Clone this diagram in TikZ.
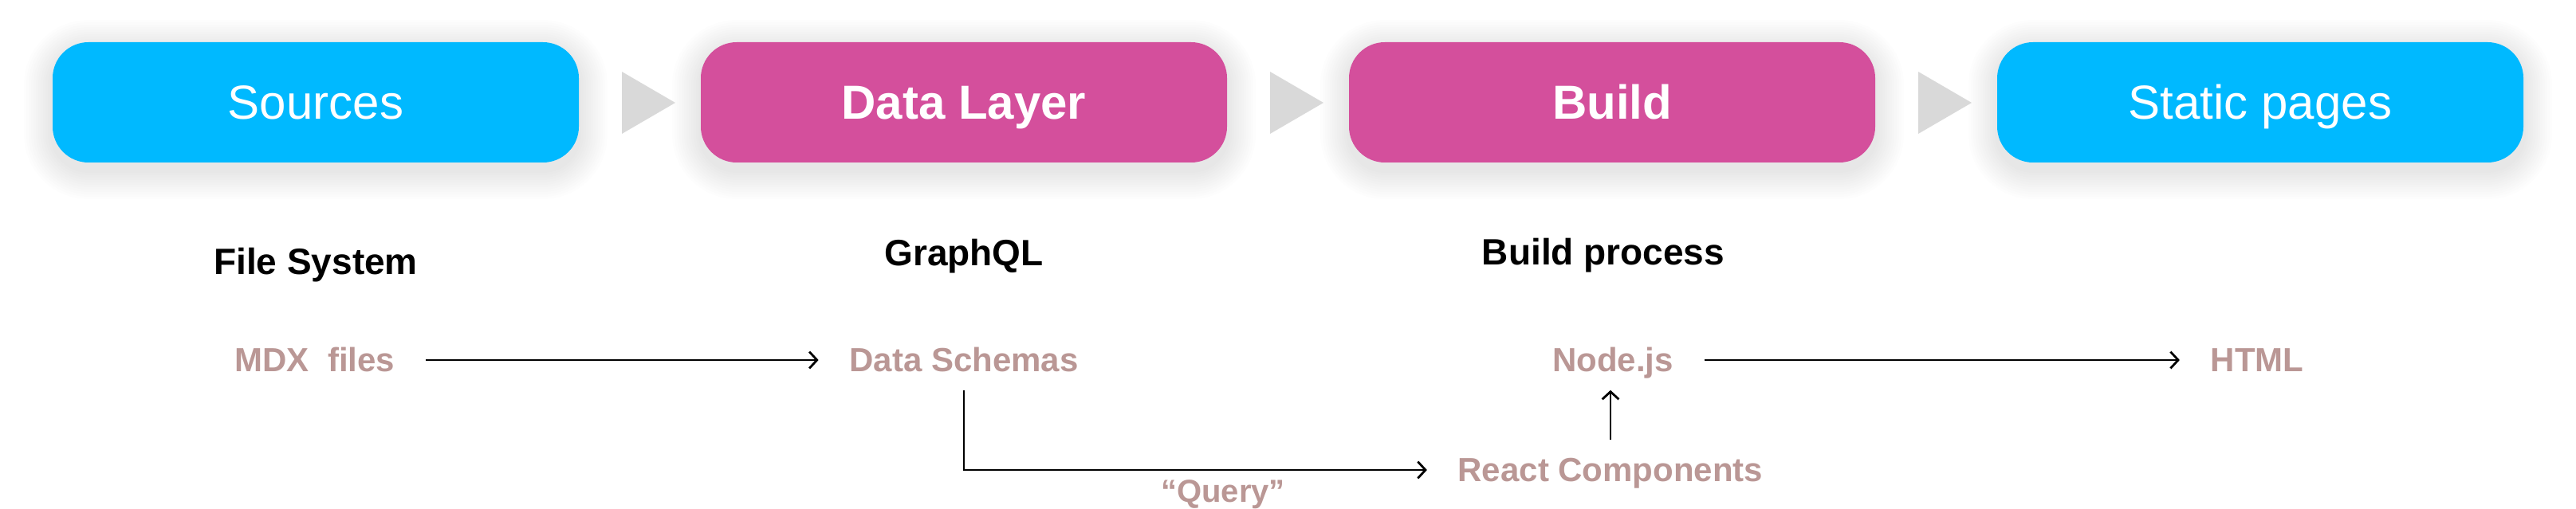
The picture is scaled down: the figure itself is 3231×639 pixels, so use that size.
\documentclass[tikz,border=0pt]{standalone}
\usepackage{fontspec}
\setmainfont{Liberation Sans}
\usetikzlibrary{arrows.meta,calc}
\definecolor{cyanbox}{RGB}{0,185,255}
\definecolor{magbox}{RGB}{212,79,156}
\definecolor{trigrey}{RGB}{217,217,217}
\definecolor{lblcol}{RGB}{186,151,149}
\begin{document}
\begin{tikzpicture}[x=0.25pt,y=-0.25pt,
  box/.style={rounded corners=11.25pt, minimum width=165pt, minimum height=37.75pt, inner sep=0pt, text height=10.74pt, text depth=0pt, text=white, font=\fontsize{15}{18}\selectfont},
  head/.style={anchor=base, inner sep=0pt, font=\fontsize{11.5}{14}\selectfont\bfseries, text=black},
  lbl/.style={anchor=base, inner xsep=9.5pt, inner ysep=5.5pt, text height=7.5pt, text depth=0pt, font=\fontsize{10.5}{13}\selectfont\bfseries, text=lblcol},
  arr/.style={draw=black, line width=0.7pt, -{Straight Barb[length=2.4pt,width=5.2pt]}},
  tri/.style={fill=trigrey}]
\useasboundingbox (0,0) rectangle (3231,639);
% soft shadows
\foreach \cx in {396,1209,2022,2835}{
  \foreach \i in {1,...,12}{
    \pgfmathsetmacro\rr{11.25+0.75*\i}
    \fill[black,opacity=0.008,rounded corners=\rr pt] (\cx-330-3*\i, 61-3*\i) rectangle (\cx+330+3*\i, 214+3*\i);
  }
}
% boxes
\node[box, fill=cyanbox] (src) at (396,128.5) {Sources};
\node[box, fill=magbox, font=\fontsize{15}{18}\selectfont\bfseries] (dl) at (1209,128.5) {Data Layer};
\node[box, fill=magbox, font=\fontsize{15}{18}\selectfont\bfseries] (bd) at (2022,128.5) {Build};
\node[box, fill=cyanbox] (sp) at (2835,128.5) {Static pages};
% grey triangles
\foreach \dx in {0,813,1626}{
  \fill[tri] (780+\dx,90) -- (847+\dx,129) -- (780+\dx,168) -- cycle;
}
% headings
\node[head] (fs) at (396,345) {File System};
\node[head] (gq) at (1209,334) {GraphQL};
\node[head] (bp) at (2011,333) {Build process};
% labels
\node[lbl] (mdx) at (395,467) {MDX\ \ files};
\node[lbl] (ds) at (1209,467) {Data Schemas};
\node[lbl] (nj) at (2023,467) {Node.js};
\node[lbl] (html) at (2831,467) {HTML};
\node[lbl] (rc) at (2020,605) {React Components};
\node[anchor=base, inner sep=0pt, font=\fontsize{10}{12}\selectfont\bfseries, text=lblcol] (q) at (1534,631) {“Query”};
% connectors
\draw[arr] (mdx.east) -- (ds.west);
\draw[arr] (nj.east) -- (html.west);
\draw[arr] (ds.south) |- (rc.west);
\draw[arr] (rc.north) -- (rc.north |- nj.south);
\end{tikzpicture}
\end{document}
